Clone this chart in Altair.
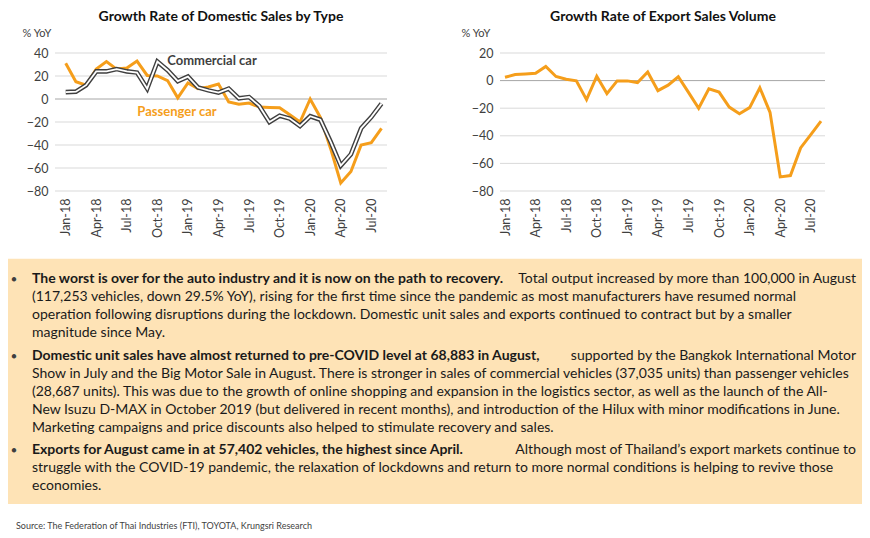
import altair as alt
import pandas as pd

# ---------------- data ----------------
months = ["Jan-18", "Feb-18", "Mar-18", "Apr-18", "May-18", "Jun-18", "Jul-18", "Aug-18",
          "Sep-18", "Oct-18", "Nov-18", "Dec-18", "Jan-19", "Feb-19", "Mar-19", "Apr-19",
          "May-19", "Jun-19", "Jul-19", "Aug-19", "Sep-19", "Oct-19", "Nov-19", "Dec-19",
          "Jan-20", "Feb-20", "Mar-20", "Apr-20", "May-20", "Jun-20", "Jul-20", "Aug-20"]
passenger = [31, 15, 12, 26, 32.5, 26, 27, 33, 20.5, 20, 16, 1, 14, 9, 10.5, 13,
             -2.6, -4.6, -3.5, -7, -7.3, -7.6, -13.7, -20, 0, -16, -43, -73, -63, -40, -38, -25.5]
commercial = [6, 6.4, 12, 24, 24, 26, 24, 23, 9, 32.5, 25, 15.5, 19.5, 10, 7.5, 5.5,
              9, 0.6, 1.7, -6, -20, -14.5, -17, -23.5, -15, -18, -37, -58, -48, -25.5, -15.7, -4]
exports = [2.4, 4.4, 4.8, 5.3, 10.2, 3, 1, -0.2, -13.8, 3.2, -9.4, -0.2, -0.2, -1.4, 6.2, -7.3,
           -3.3, 2.8, -8.5, -20, -6, -8.3, -19.2, -24, -19.6, -5.2, -23, -69.8, -68.8, -48.8, -39.2, -29.3]

x_tick_labels = ["Jan-18", "Apr-18", "Jul-18", "Oct-18", "Jan-19", "Apr-19", "Jul-19",
                 "Oct-19", "Jan-20", "Apr-20", "Jul-20"]
dom_ticks = [-80, -60, -40, -20, 0, 20, 40]
exp_ticks = [-80, -60, -40, -20, 0, 20]

title_left = "Growth Rate of Domestic Sales by Type"
title_right = "Growth Rate of Export Sales Volume"
unit_label = "% YoY"
label_commercial = "Commercial car"
label_passenger = "Passenger car"

para_bold = [
    "The worst is over for the auto industry and it is now on the path to recovery.",
    "Domestic unit sales have almost returned to pre-COVID level at 68,883 in August,",
    "Exports for August came in at 57,402 vehicles, the highest since April.",
]
para_first_rest = [
    "Total output increased by more than 100,000 in August",
    "supported by the Bangkok International Motor",
    "Although most of Thailand\u2019s export markets continue to",
]
para_lines = [
    ["(117,253 vehicles, down 29.5% YoY), rising for the first time since the pandemic as most manufacturers have resumed normal",
     "operation following disruptions during the lockdown. Domestic unit sales and exports continued to contract but by a smaller",
     "magnitude since May."],
    ["Show in July and the Big Motor Sale in August. There is stronger in sales of commercial vehicles (37,035 units) than passenger vehicles",
     "(28,687 units). This was due to the growth of online shopping and expansion in the logistics sector, as well as the launch of the All-",
     "New Isuzu D-MAX in October 2019 (but delivered in recent months), and introduction of the Hilux with minor modifications in June.",
     "Marketing campaigns and price discounts also helped to stimulate recovery and sales."],
    ["struggle with the COVID-19 pandemic, the relaxation of lockdowns and return to more normal conditions is helping to revive those",
     "economies."],
]
source_text = "Source: The Federation of Thai Industries (FTI), TOYOTA, Krungsri Research"

# ---------------- style ----------------
FONT = "Lato"
ORANGE = "#F59E1B"
DARK = "#3F3F3F"
TXT = "#1A1A1A"
GRID = "#D9D9D9"
ZERO = "#A6A6A6"
BOX = "#FEE3B6"
BODY_SIZE = 14

LW, LH = 332, 138
RW, RH = 325, 138


def x_enc(rng):
    return alt.X("month:O", sort=months,
                 scale=alt.Scale(type="point", range=rng, padding=0),
                 axis=alt.Axis(values=x_tick_labels, labelAngle=270, labelFont=FONT,
                               labelFontSize=12.5, labelColor=DARK, labelPadding=7,
                               ticks=False, domain=False, grid=False, title=None))


def y_enc(field, domain, ticks):
    axis = alt.Axis(values=ticks, grid=False, ticks=False,
                    domain=False, labelFont=FONT, labelFontSize=12.5, labelColor=DARK,
                    labelPadding=7, title=None)
    return alt.Y(f"{field}:Q", scale=alt.Scale(domain=domain, nice=False, zero=False), axis=axis)


def label(text, x, y, size, color, weight="normal", align="center", baseline="middle"):
    return alt.Chart(pd.DataFrame({"t": [text]})).mark_text(
        font=FONT, fontSize=size, fontWeight=weight, color=color, align=align, baseline=baseline
    ).encode(x=alt.value(x), y=alt.value(y), text="t:N")


def grid_rules(ticks, domain):
    gl = alt.Chart(pd.DataFrame({"v": [t for t in ticks if t != 0]})).mark_rule(
        color=GRID, strokeWidth=1).encode(y=y_enc("v", domain, ticks))
    zl = alt.Chart(pd.DataFrame({"v": [0]})).mark_rule(
        color=ZERO, strokeWidth=1).encode(y=y_enc("v", domain, ticks))
    return gl, zl


# ---------------- text block (drawn in the left panel's pixel frame) ----------------
BOX_TOP = 205.7
para_top = [BOX_TOP + 20.3, BOX_TOP + 97, BOX_TOP + 191.3]
LINE = 18

text_layers = [
    alt.Chart(pd.DataFrame({"a": [0]})).mark_rect(color=BOX).encode(
        x=alt.value(-47), x2=alt.value(807), y=alt.value(BOX_TOP), y2=alt.value(BOX_TOP + 245.3))
]
for p in range(len(para_bold)):
    y0 = para_top[p]
    text_layers.append(label("\u25CF", -41, y0, 9, DARK))
    text_layers.append(label(para_bold[p], -23, y0, BODY_SIZE, TXT, "bold", align="left"))
    text_layers.append(label(para_first_rest[p], 801, y0, BODY_SIZE, TXT, align="right"))
    for i, t in enumerate(para_lines[p]):
        text_layers.append(label(t, -23, y0 + LINE * (i + 1), BODY_SIZE, TXT, align="left"))
text_layers.append(label(source_text, -39, BOX_TOP + 267.5, 9, DARK, align="left"))

# ---------------- left chart ----------------
dom_df = pd.DataFrame({"month": months, "passenger": passenger, "commercial": commercial})
base_l = alt.Chart(dom_df)
xl = x_enc([10.7, 326.5])
grid_l, zero_l = grid_rules(dom_ticks, [-80, 40])
pas_line = base_l.mark_line(color=ORANGE, strokeWidth=3).encode(
    x=xl, y=y_enc("passenger", [-80, 40], dom_ticks))
com_out = base_l.mark_line(color=DARK, strokeWidth=4.6).encode(
    x=xl, y=y_enc("commercial", [-80, 40], dom_ticks))
com_in = base_l.mark_line(color="white", strokeWidth=1.8).encode(
    x=xl, y=y_enc("commercial", [-80, 40], dom_ticks))
anchor = alt.Chart(pd.DataFrame({"a": [0]})).mark_rect(opacity=0).encode(
    x=alt.value(-47), x2=alt.value(-46), y=alt.value(-44.3), y2=alt.value(-43))

left = alt.layer(
    grid_l, zero_l, pas_line, com_out, com_in,
    anchor, *text_layers,
    label(title_left, 166, -36.3, 14, "#111111", "bold"),
    label(unit_label, -32.5, -19.5, 11, DARK, align="left"),
    label(label_commercial, 157, 7.5, 13, DARK, "bold"),
    label(label_passenger, 122, 58.5, 13, ORANGE, "bold"),
).properties(width=LW, height=LH)

# ---------------- right chart ----------------
exp_df = pd.DataFrame({"month": months, "exports": exports})
xr = x_enc([5, 321])
grid_r, zero_r = grid_rules(exp_ticks, [-80, 20])
exp_line = alt.Chart(exp_df).mark_line(color=ORANGE, strokeWidth=3).encode(
    x=xr, y=y_enc("exports", [-80, 20], exp_ticks))

right = alt.layer(
    grid_r, zero_r, exp_line,
    label(title_right, 163, -36.3, 14, "#111111", "bold"),
    label(unit_label, -38.5, -19.5, 11, DARK, align="left"),
).properties(width=RW, height=RH)

chart = alt.hconcat(left, right, spacing=113, bounds="flush").properties(
    padding=0, background="white"
).configure_view(stroke=None)

chart.save("out.html", embed_options={"renderer": "svg", "actions": False})
